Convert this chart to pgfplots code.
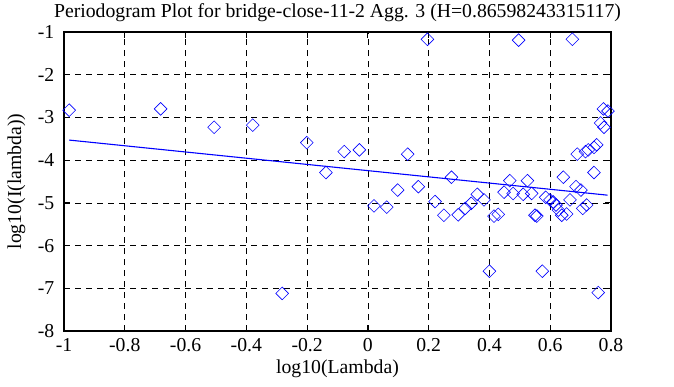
\documentclass[border=0pt]{standalone}
\usepackage{fontspec}
\setmainfont{Liberation Serif}
\usepackage{pgfplots}
\pgfplotsset{compat=1.18}
\definecolor{gblue}{RGB}{0,0,255}
\begin{document}
\fontsize{19.8}{22}\selectfont
\begin{tikzpicture}
\useasboundingbox (0,0) rectangle (674bp,-387bp);
\begin{axis}[
  at={(64bp,-331bp)}, anchor=south west,
  scale only axis, width=547bp, height=299bp,
  xmin=-1, xmax=0.8, ymin=-8, ymax=-1,
  xtick={-1,-0.8,-0.6,-0.4,-0.2,0,0.2,0.4,0.6,0.8},
  xticklabels={-1,-0.8,-0.6,-0.4,-0.2,0,0.2,0.4,0.6,0.8},
  ytick={-8,-7,-6,-5,-4,-3,-2,-1},
  yticklabels={-8,-7,-6,-5,-4,-3,-2,-1},
  tick align=inside, tick pos=both,
  major tick length=6bp,
  every tick/.style={black, line width=1.2pt},
  axis line style={black, line width=1.6pt},
  grid=major,
  major grid style={black, line width=0.7pt, dash pattern=on 6bp off 5bp},
  xticklabel style={yshift=-1bp},
  yticklabel style={xshift=-3bp},
  title={Periodogram Plot for bridge-close-11-2 Agg. 3 (H=0.86598243315117)},
  title style={yshift=-3bp},
  xlabel={log10(Lambda)},
  ylabel={log10(I(lambda))},
  xlabel style={yshift=6bp},
  ylabel style={yshift=-1bp},
  clip=false,
]
\addplot[only marks, gblue, mark=square, mark size=4.5bp,
  mark options={rotate=45, line width=0.6pt}] coordinates {
(-0.983,-2.83) (-0.682,-2.80) (-0.506,-3.23) (-0.379,-3.18) (-0.282,-7.12)
(-0.201,-3.59) (-0.138,-4.29) (-0.078,-3.80) (-0.028,-3.76) (0.020,-5.07)
(0.062,-5.10) (0.098,-4.70) (0.131,-3.86) (0.166,-4.62) (0.196,-1.17)
(0.221,-4.97) (0.250,-5.29) (0.275,-4.40) (0.297,-5.28) (0.320,-5.13)
(0.340,-5.01) (0.360,-4.80) (0.382,-4.93) (0.400,-6.60) (0.415,-5.31)
(0.429,-5.27) (0.448,-4.75) (0.467,-4.48) (0.478,-4.78) (0.496,-1.19)
(0.511,-4.80) (0.525,-4.48) (0.539,-4.78) (0.550,-5.29) (0.556,-5.31)
(0.574,-6.60) (0.585,-4.87) (0.599,-4.93) (0.610,-4.98) (0.619,-5.05)
(0.627,-5.17) (0.638,-5.29) (0.643,-4.40) (0.654,-5.26) (0.665,-4.93)
(0.673,-1.17) (0.685,-4.62) (0.689,-3.86) (0.701,-4.70) (0.707,-5.13)
(0.720,-5.05) (0.716,-3.80) (0.725,-3.76) (0.744,-4.29) (0.744,-3.70)
(0.753,-3.64) (0.758,-7.10) (0.766,-3.13) (0.777,-3.23) (0.775,-2.80)
(0.790,-2.85)
};
\addplot[gblue, line width=1.1pt] coordinates {(-0.983,-3.53) (0.789,-4.82)};
\end{axis}
\end{tikzpicture}
\end{document}
